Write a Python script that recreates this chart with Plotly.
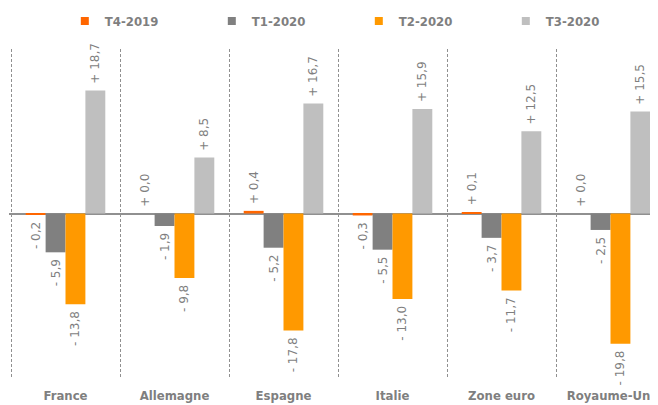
import plotly.graph_objects as go

categories = ["France", "Allemagne", "Espagne", "Italie", "Zone euro", "Royaume-Uni"]
series_names = ["T4-2019", "T1-2020", "T2-2020", "T3-2020"]
t4_2019 = [-0.2, 0.0, 0.4, -0.3, 0.1, 0.0]
t1_2020 = [-5.9, -1.9, -5.2, -5.5, -3.7, -2.5]
t2_2020 = [-13.8, -9.8, -17.8, -13.0, -11.7, -19.8]
t3_2020 = [18.7, 8.5, 16.7, 15.9, 12.5, 15.5]
colors = ["#FF6600", "#808080", "#FF9900", "#BFBFBF"]

TEXT_GRAY = "#7F7F7F"
NBSP = "\u00a0"
BOLD_FONT = "DejaVu Sans Condensed, DejaVu Sans"


def fmt(v):
    # a non-breaking space on the bar side keeps the label a little off the bar end
    if v < 0:
        return f"- {abs(v):.1f}".replace(".", ",") + NBSP
    return NBSP + f"+ {abs(v):.1f}".replace(".", ",")


fig = go.Figure()
for name, vals, col in zip(series_names, [t4_2019, t1_2020, t2_2020, t3_2020], colors):
    fig.add_trace(go.Bar(
        x=categories, y=vals, name=name, marker_color=col, marker_line_width=0,
        text=[fmt(v) for v in vals], textposition="outside", textangle=-90,
        textfont=dict(family="DejaVu Sans", size=12, color=TEXT_GRAY),
        constraintext="none", cliponaxis=False, showlegend=False,
    ))
    fig.add_trace(go.Scatter(
        x=[None], y=[None], mode="markers", name=name,
        marker=dict(symbol="square", size=8, color=col),
    ))

# the page body adds an 8px offset, so the figure is sized to fit the window
fig.update_layout(
    width=650, height=397,
    margin=dict(l=1, r=0, t=41, b=27, autoexpand=False),
    paper_bgcolor="white", plot_bgcolor="white",
    barmode="group", bargap=0.27, bargroupgap=0,
    font=dict(family="DejaVu Sans", color=TEXT_GRAY),
    legend=dict(
        orientation="h", x=0.086, xanchor="left",
        yref="container", y=1 - 13 / 397, yanchor="middle",
        entrywidth=102, entrywidthmode="pixels",
        font=dict(family=BOLD_FONT, size=13, color=TEXT_GRAY, weight="bold"),
        itemwidth=30,
    ),
    xaxis=dict(
        range=[-0.5 - 2 / 109, -0.5 - 2 / 109 + 649 / 109], tickson="boundaries",
        automargin=False,
        showgrid=True, gridcolor="#909090", griddash="3px,2px", gridwidth=1,
        ticks="outside", ticklen=14, tickcolor="rgba(0,0,0,0)", ticklabelstandoff=8,
        tickfont=dict(family=BOLD_FONT, size=13, color=TEXT_GRAY, weight="bold"),
        showline=False, zeroline=False,
    ),
    yaxis=dict(
        range=[-25, 25], showgrid=False, showticklabels=False, ticks="", automargin=False,
        zeroline=True, zerolinecolor="#909090", zerolinewidth=1.5, showline=False,
    ),
)

fig.write_html("out.html")
